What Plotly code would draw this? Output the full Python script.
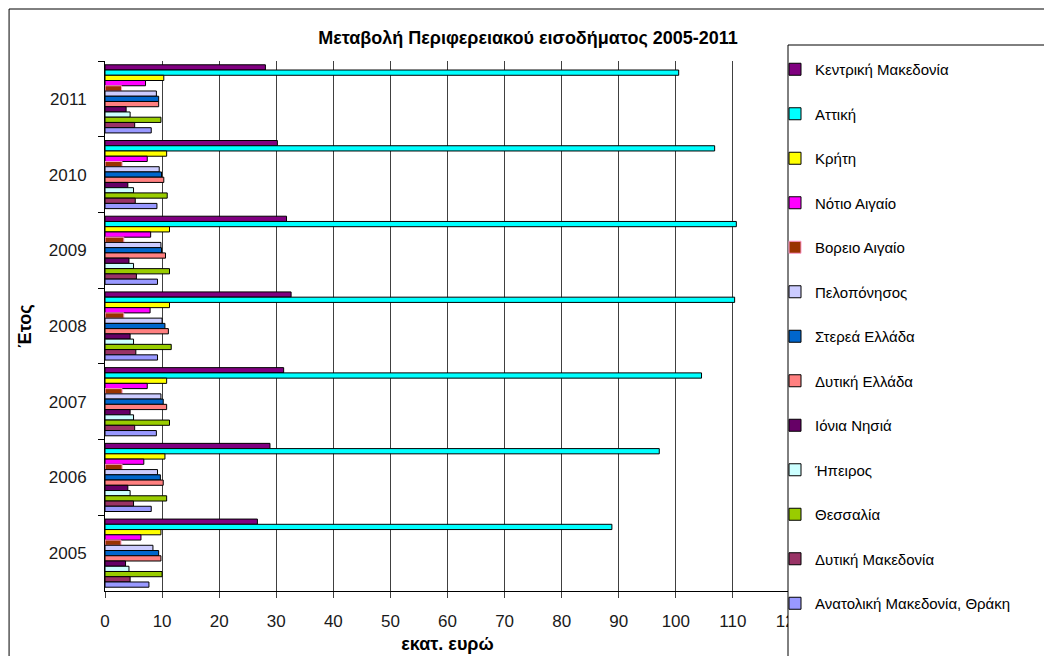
import plotly.graph_objects as go

years = ["2005", "2006", "2007", "2008", "2009", "2010", "2011"]

regions = [
    "Κεντρική Μακεδονία", "Αττική", "Κρήτη", "Νότιο Αιγαίο", "Βορειο Αιγαίο",
    "Πελοπόνησος", "Στερεά Ελλάδα", "Δυτική Ελλάδα", "Ιόνια Νησιά", "Ήπειρος",
    "Θεσσαλία", "Δυτική Μακεδονία", "Ανατολική Μακεδονία, Θράκη",
]

kentriki_makedonia = [26.7, 28.9, 31.3, 32.6, 31.8, 30.2, 28.1]
attiki = [88.8, 97.1, 104.5, 110.3, 110.6, 106.8, 100.5]
kriti = [9.8, 10.5, 10.8, 11.3, 11.3, 10.8, 10.3]
notio_aigaio = [6.3, 6.8, 7.4, 7.9, 8.0, 7.4, 7.1]
voreio_aigaio = [2.8, 3.0, 3.0, 3.3, 3.3, 3.0, 2.9]
peloponnisos = [8.4, 9.2, 9.8, 10.0, 9.8, 9.5, 9.0]
sterea_ellada = [9.4, 9.7, 10.2, 10.5, 9.9, 9.9, 9.4]
dytiki_ellada = [9.8, 10.2, 10.8, 11.1, 10.6, 10.3, 9.4]
ionia_nisia = [3.6, 4.0, 4.4, 4.4, 4.2, 4.0, 3.7]
ipeiros = [4.2, 4.4, 5.0, 5.0, 5.0, 5.0, 4.4]
thessalia = [10.0, 10.8, 11.3, 11.6, 11.3, 10.9, 9.8]
dytiki_makedonia = [4.4, 5.0, 5.2, 5.4, 5.5, 5.3, 5.2]
anatoliki_makedonia_thraki = [7.7, 8.1, 9.0, 9.2, 9.2, 9.1, 8.1]

series = [
    kentriki_makedonia, attiki, kriti, notio_aigaio, voreio_aigaio,
    peloponnisos, sterea_ellada, dytiki_ellada, ionia_nisia, ipeiros,
    thessalia, dytiki_makedonia, anatoliki_makedonia_thraki,
]

fill_colors = [
    "#800080", "#00FFFF", "#FFFF00", "#FF00FF", "#993300",
    "#CCCCFF", "#0066CC", "#FF8080", "#660066", "#CCFFFF",
    "#99CC00", "#993366", "#9999FF",
]
line_colors = ["#000000"] * 4 + ["#FF99CC"] + ["#000000"] * 8

x_ticks = list(range(0, 130, 10))

FONT = "Arial, Liberation Sans, sans-serif"

fig = go.Figure()
for name, vals, fc, lc in zip(regions, series, fill_colors, line_colors):
    fig.add_trace(go.Bar(
        y=years, x=vals, name=name, orientation="h",
        marker=dict(color=fc, line=dict(color=lc, width=1)),
        legendgroup=name,
    ))

# page has an 8px body margin, so figure coordinates = screen - 8
W, H = 1052, 656
L, R, T, B = 96.5, 270, 10, 30
pw = W - L - R
ph = H - T - B
PLOT_TOP, PLOT_BOTTOM = 53, 583


def px_x(p):
    return (p - L) / pw


def px_y(p):
    return (H - B - p) / ph


fig.update_layout(
    width=W, height=H,
    margin=dict(l=L, r=R, t=T, b=B, autoexpand=False),
    paper_bgcolor="white", plot_bgcolor="white",
    font=dict(family=FONT, size=17, color="#1a1a1a"),
    barmode="group", bargap=0.1, bargroupgap=0,
    title=dict(text="<b>Μεταβολή Περιφερειακού εισοδήματος 2005-2011</b>",
               x=0.4943, xref="container", y=1 - 30 / H, yref="container",
               yanchor="middle",
               font=dict(size=18, family=FONT, color="#000")),
    xaxis=dict(range=[0, 120], tickvals=x_ticks, showgrid=True,
               gridcolor="#404040", gridwidth=1, zeroline=False,
               showline=True, linecolor="#000", linewidth=1,
               ticks="outside", ticklen=6, tickcolor="#404040",
               ticklabelstandoff=9,
               tickfont=dict(size=17, family=FONT, color="#1a1a1a"),
               title=dict(text="<b>εκατ. ευρώ</b>", standoff=6,
                          font=dict(size=18, family=FONT, color="#000"))),
    yaxis=dict(type="category", categoryorder="array",
               categoryarray=years[::-1], autorange="reversed",
               domain=[px_y(PLOT_BOTTOM), px_y(PLOT_TOP)],
               showgrid=False, zeroline=False,
               showline=True, linecolor="#000", linewidth=1,
               ticks="outside", ticklen=6, tickcolor="#000",
               tickson="boundaries", ticklabelstandoff=14,
               tickfont=dict(size=17, family=FONT, color="#1a1a1a"),
               title=dict(text="<b>Έτος</b>", standoff=12,
                          font=dict(size=18, family=FONT, color="#000"))),
    legend=dict(x=px_x(767), xanchor="left", y=px_y(45), yanchor="top",
                bgcolor="rgba(0,0,0,0)", borderwidth=0,
                tracegroupgap=22, traceorder="grouped",
                font=dict(size=15, family=FONT, color="#000")),
    shapes=[
        dict(type="rect", xref="paper", yref="paper",
             x0=px_x(780), x1=px_x(1042), y0=px_y(700), y1=px_y(37),
             fillcolor="white", line=dict(color="#000", width=1), layer="above"),
        dict(type="rect", xref="paper", yref="paper",
             x0=px_x(0.5), x1=px_x(1042), y0=px_y(700), y1=px_y(1),
             fillcolor="rgba(0,0,0,0)", line=dict(color="#000", width=1), layer="above"),
    ],
)

fig.write_html("out.html")
